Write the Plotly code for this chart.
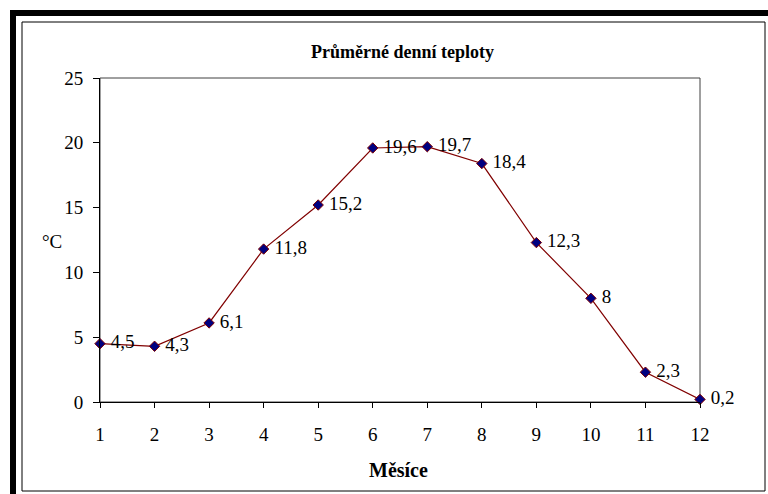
import plotly.graph_objects as go

months = [1, 2, 3, 4, 5, 6, 7, 8, 9, 10, 11, 12]
temps = [4.5, 4.3, 6.1, 11.8, 15.2, 19.6, 19.7, 18.4, 12.3, 8, 2.3, 0.2]
labels = [str(v).replace('.', ',') if v != int(v) else str(int(v)) for v in temps]
x_ticks = months
y_ticks = [0, 5, 10, 15, 20, 25]
title_text = "Průměrné denní teploty"
x_title = "Měsíce"
y_title = "°C"

FONT = "Liberation Serif, Times New Roman, serif"
W, H = 768, 494
L, R, T, B = 100, 700, 78, 402  # plot area in pixels

def px(x):
    return (x - L) / (R - L)

def py(y):
    return (B - y) / (B - T)

fig = go.Figure()
fig.add_trace(go.Scatter(
    x=months, y=temps, mode="lines+markers+text",
    text=[" " + t for t in labels], textposition="middle right",
    textfont=dict(family=FONT, size=19, color="black"),
    line=dict(color="#800000", width=1.2),
    marker=dict(symbol="diamond", size=8, color="#000080",
                line=dict(color="#800000", width=1)),
    cliponaxis=False, showlegend=False,
))

shapes = [
    dict(type="rect", xref="paper", yref="paper", x0=0, x1=1, y0=0, y1=1,
         line=dict(color="#404040", width=1), layer="below"),
    dict(type="rect", xref="paper", yref="paper", x0=px(10), x1=px(16), y0=py(494), y1=py(10),
         line=dict(width=0), fillcolor="black"),
    dict(type="rect", xref="paper", yref="paper", x0=px(10), x1=px(768), y0=py(16), y1=py(10),
         line=dict(width=0), fillcolor="black"),
    dict(type="rect", xref="paper", yref="paper", x0=px(22), x1=px(765), y0=py(491), y1=py(22),
         line=dict(color="black", width=1)),
]

annotations = [
    dict(text="<b>" + title_text + "</b>", xref="paper", yref="paper", x=px(402), y=py(52),
         xanchor="center", yanchor="middle", showarrow=False,
         font=dict(family=FONT, size=18, color="black")),
    dict(text=y_title, xref="paper", yref="paper", x=px(52), y=py(241),
         xanchor="center", yanchor="middle", showarrow=False,
         font=dict(family=FONT, size=19, color="black")),
    dict(text="<b>" + x_title + "</b>", xref="paper", yref="paper", x=px(398), y=py(470),
         xanchor="center", yanchor="middle", showarrow=False,
         font=dict(family=FONT, size=20, color="black")),
]

fig.update_layout(
    width=W, height=H,
    margin=dict(l=L, r=W - R, t=T, b=H - B),
    paper_bgcolor="white", plot_bgcolor="white",
    shapes=shapes, annotations=annotations,
    font=dict(family=FONT, size=19, color="black"),
    xaxis=dict(range=[1, 12], tickvals=x_ticks, ticks="outside", ticklen=5,
               tickcolor="black", showline=True, linecolor="black", linewidth=1,
               showgrid=False, zeroline=False, ticklabelstandoff=10,
               tickfont=dict(family=FONT, size=19, color="black")),
    yaxis=dict(range=[0, 25], tickvals=y_ticks, ticks="outside", ticklen=6,
               tickcolor="black", showline=True, linecolor="black", linewidth=1,
               showgrid=False, zeroline=False, ticklabelstandoff=6,
               tickfont=dict(family=FONT, size=19, color="black")),
)

fig.write_html("out.html")
